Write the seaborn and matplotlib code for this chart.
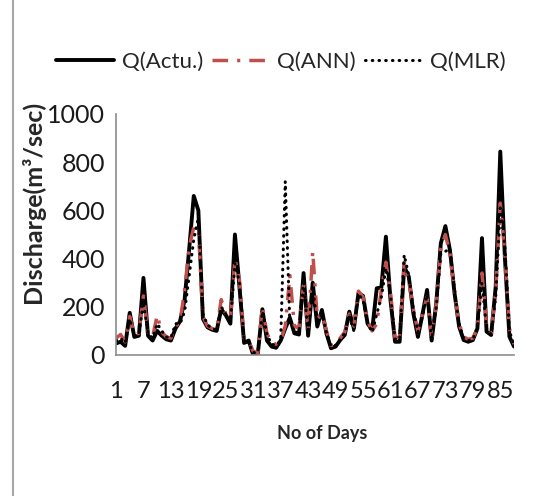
import numpy as np
import pandas as pd
import seaborn as sns
import matplotlib.pyplot as plt
from matplotlib.lines import Line2D


#données (débit journalier, m3/s)
days = list(range(1, 89))

q_actual = [48, 55, 38, 175, 75, 80, 320, 80, 60, 100,
            80, 65, 60, 110, 140, 230, 440, 660, 600, 150,
            115, 105, 100, 190, 165, 130, 500, 280, 50, 60,
            0, 5, 190, 60, 35, 30, 60, 110, 155, 90,
            85, 340, 80, 300, 118, 187, 90, 28, 35, 62,
            83, 180, 110, 257, 245, 130, 104, 277, 280, 491,
            228, 55, 55, 367, 325, 173, 75, 170, 270, 60,
            214, 463, 535, 435, 256, 118, 62, 55, 62, 110,
            485, 97, 83, 284, 844, 408, 76, 35]

q_ann = [70, 85, 55, 160, 85, 90, 245, 95, 75, 165,
         95, 75, 70, 120, 135, 270, 450, 530, 525, 160,
         120, 110, 105, 230, 170, 150, 400, 310, 70, 55,
         15, 10, 200, 90, 50, 45, 60, 120, 330, 120,
         110, 290, 100, 430, 150, 170, 100, 40, 45, 70,
         95, 170, 120, 265, 240, 140, 100, 130, 270, 385,
         260, 70, 75, 385, 310, 190, 100, 170, 240, 75,
         210, 440, 500, 420, 260, 130, 75, 65, 70, 110,
         340, 120, 90, 260, 630, 420, 110, 45]

q_mlr = [60, 70, 50, 150, 80, 85, 220, 90, 70, 130,
         100, 75, 70, 130, 130, 180, 330, 480, 570, 170,
         125, 110, 105, 200, 170, 140, 380, 300, 60, 50,
         10, 10, 180, 85, 45, 40, 60, 720, 130, 100,
         90, 300, 90, 280, 130, 170, 95, 35, 40, 65,
         90, 160, 100, 250, 230, 130, 95, 170, 240, 360,
         250, 65, 65, 415, 330, 190, 95, 160, 250, 65,
         200, 420, 430, 440, 270, 130, 70, 60, 65, 115,
         300, 110, 85, 240, 610, 450, 100, 40]

x_ticks = days[::6]
y_ticks = [0, 200, 400, 600, 800, 1000]

df = pd.DataFrame({'jour': days, 'actu': q_actual, 'ann': q_ann, 'mlr': q_mlr})

sns.set_style('white')
plt.rcParams['font.family'] = ['Lato', 'DejaVu Sans']

fig = plt.figure(figsize=(5.37, 4.96), dpi=100)
ax = fig.add_axes([116/537, 1 - 355/496, 398/537, 241/496])

red = '#c0504d'
sns.lineplot(data=df, x='jour', y='actu', ax=ax, color='black', lw=2.8,
             solid_joinstyle='round', label='Q(Actu.)')
sns.lineplot(data=df, x='jour', y='ann', ax=ax, color=red, lw=2.5,
             linestyle=(0, (4.5, 2.6, 0.9, 2.6)), label='Q(ANN)')
sns.lineplot(data=df, x='jour', y='mlr', ax=ax, color='black', lw=2.2,
             linestyle=(0, (0.2, 2.0)), dash_capstyle='round', label='Q(MLR)')

#axes
ax.set_xlim(1, 88)
ax.set_ylim(0, 1000)
ax.set_xticks(x_ticks)
ax.set_xticklabels([str(v) for v in x_ticks], fontsize=17)
ax.set_yticks(y_ticks)
ax.set_yticklabels([str(v) for v in y_ticks], fontsize=18)
ax.tick_params(axis='both', direction='out', length=5, width=1, pad=3)
ax.tick_params(axis='x', pad=14)
ax.tick_params(axis='both', colors='#8c8c8c', labelcolor='#1a1a1a')
for s in ['top', 'right']:
    ax.spines[s].set_visible(False)
for s in ['left', 'bottom']:
    ax.spines[s].set_color('#8c8c8c')
    ax.spines[s].set_linewidth(1.2)
ax.set_xlabel('')
ax.set_ylabel('')

#titres des axes
fig.text(33/537, 1 - 202/496, 'Discharge(m³/sec)', rotation=90, fontsize=18,
         fontweight='bold', ha='center', va='center')
fig.text(322/537, 1 - 434/496, 'No of Days', fontsize=13, fontweight='bold',
         ha='center', va='center')

#légende
handles, labels = ax.get_legend_handles_labels()
ax.get_legend().remove()
fig.legend(handles, labels, loc='center', bbox_to_anchor=(281/537, 1 - 62/496),
           ncol=3, frameon=False, fontsize=16, handlelength=2.6,
           handletextpad=0.35, columnspacing=0.4)

#bordure gauche du cadre
fig.add_artist(Line2D([13/537, 13/537], [0, 1], color='#a6a6a6', lw=1.5))

fig.savefig('out.png', dpi=100)
